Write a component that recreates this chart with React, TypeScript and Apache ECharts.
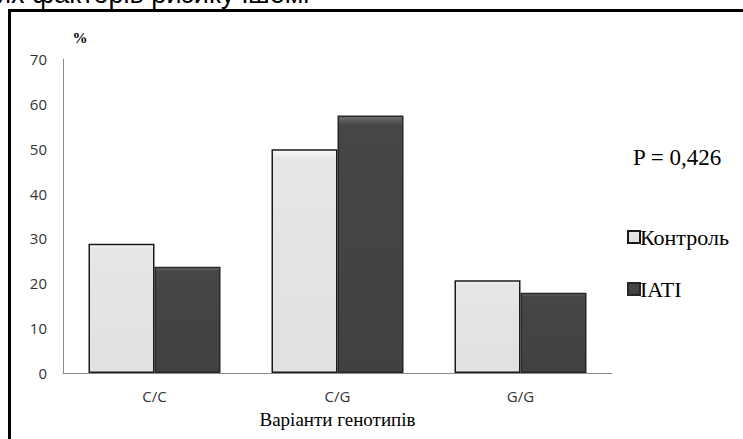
import React, { useEffect, useRef } from "react";
import * as echarts from "echarts";

const categories = ["C/C", "C/G", "G/G"];
const controlValues = [28.8, 49.9, 20.7];
const iatiValues = [23.7, 57.4, 17.9];
const seriesNames = ["Контроль", "IATI"];
const yTicks = { min: 0, max: 70, interval: 10 };
const headerText = "их факторів ризику ішемі";
const pText = "P = 0,426";
const unitText = "%";
const xTitle = "Варіанти генотипів";

export default function App() {
  const ref = useRef<HTMLDivElement>(null);
  useEffect(() => {
    if (!ref.current) return;
    const chart = echarts.init(ref.current, undefined, { renderer: "svg" });
    const serif = "'Liberation Serif', 'DejaVu Serif', serif";
    const sans = "'Open Sans', 'Noto Sans', sans-serif";
    const lightFill = new echarts.graphic.LinearGradient(0, 0, 0, 1, [
      { offset: 0, color: "#fbfbfb" },
      { offset: 0.035, color: "#e6e6e6" },
      { offset: 1, color: "#e1e1e1" },
    ]);
    const darkFill = new echarts.graphic.LinearGradient(0, 0, 0, 1, [
      { offset: 0, color: "#707070" },
      { offset: 0.035, color: "#464646" },
      { offset: 1, color: "#414141" },
    ]);
    chart.setOption({
      animation: false,
      backgroundColor: "#ffffff",
      grid: { left: 63, right: 131, top: 59, bottom: 66, containLabel: false },
      xAxis: {
        type: "category",
        data: categories,
        axisLine: { show: true, lineStyle: { color: "#8c8c8c", width: 1 } },
        axisTick: { show: false },
        axisLabel: { color: "#333333", fontSize: 15, fontFamily: sans, margin: 15 },
        name: xTitle,
        nameLocation: "middle",
        nameGap: 37,
        nameTextStyle: { color: "#000", fontSize: 19, fontFamily: serif },
      },
      yAxis: {
        type: "value",
        min: yTicks.min,
        max: yTicks.max,
        interval: yTicks.interval,
        axisLine: { show: true, lineStyle: { color: "#8c8c8c", width: 1 } },
        axisTick: { show: false },
        splitLine: { show: false },
        axisLabel: { color: "#333333", fontSize: 15, fontFamily: sans, margin: 16 },
      },
      legend: {
        orient: "vertical",
        left: 622,
        top: 221,
        itemWidth: 12,
        itemHeight: 12,
        itemGap: 30,
        icon: "rect",
        textStyle: {
          color: "#000",
          fontSize: 22,
          fontFamily: serif,
          lineHeight: 20,
          padding: [0, 0, 0, -5],
        },
        data: seriesNames,
      },
      series: [
        {
          name: seriesNames[0],
          type: "bar",
          data: controlValues,
          barWidth: 66,
          barGap: "0%",
          itemStyle: { color: lightFill, borderColor: "#1a1a1a", borderWidth: 1.5 },
        },
        {
          name: seriesNames[1],
          type: "bar",
          data: iatiValues,
          barWidth: 66,
          barGap: "0%",
          itemStyle: { color: darkFill, borderColor: "#262626", borderWidth: 1.5 },
        },
      ],
      graphic: [
        {
          type: "polyline",
          shape: { points: [[9.5, 439], [9.5, 10.5], [743, 10.5]] },
          style: { stroke: "#000", lineWidth: 3, fill: "none" },
          silent: true,
        },
        {
          type: "text",
          x: -4,
          y: 7,
          style: {
            text: headerText,
            fontSize: 27,
            fontFamily: "'Liberation Sans', Arial, sans-serif",
            fill: "#000",
            align: "left",
            verticalAlign: "bottom",
          },
          silent: true,
        },
        {
          type: "text",
          x: 80,
          y: 38,
          style: { text: unitText, fontSize: 15, fontWeight: "bold", fontFamily: serif, fill: "#000", align: "center", verticalAlign: "middle" },
          silent: true,
        },
        {
          type: "text",
          x: 633,
          y: 157,
          style: { text: pText, fontSize: 23, fontFamily: serif, fill: "#000", align: "left", verticalAlign: "middle" },
          silent: true,
        },
      ],
    });
    return () => chart.dispose();
  }, []);
  return (
    <div
      ref={ref}
      style={{ position: "absolute", left: 0, top: 0, width: 743, height: 439 }}
    />
  );
}
